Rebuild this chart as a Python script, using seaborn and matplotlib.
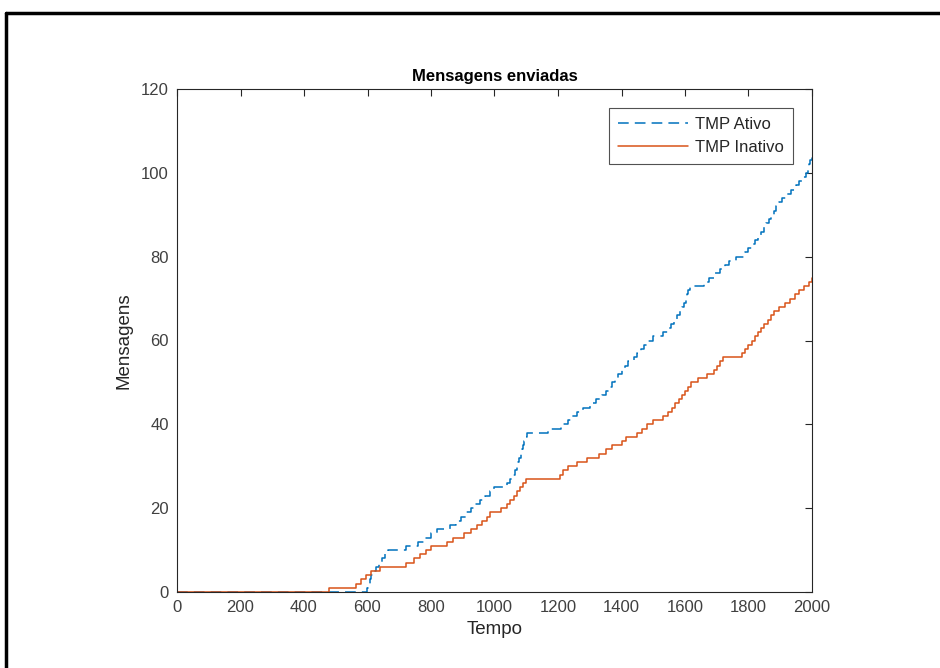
import matplotlib
matplotlib.use("Agg")
import matplotlib.pyplot as plt
import seaborn as sns
import pandas as pd
from matplotlib.lines import Line2D

# --- data (change points of the step curves) ---
ativo_t = [0, 598, 603, 608, 612, 620, 628, 636, 645, 655, 665, 720, 760, 780, 800, 820,
           860, 880, 895, 910, 925, 940, 955, 970, 985, 1000, 1040, 1050, 1058, 1064, 1070,
           1074, 1078, 1082, 1086, 1090, 1094, 1098, 1102, 1170, 1210, 1230, 1245, 1260,
           1280, 1300, 1320, 1340, 1350, 1360, 1370, 1380, 1390, 1400, 1410, 1420, 1440,
           1450, 1460, 1470, 1480, 1500, 1530, 1545, 1555, 1565, 1575, 1585, 1592, 1598,
           1602, 1606, 1610, 1615, 1660, 1675, 1690, 1710, 1725, 1740, 1760, 1790, 1800,
           1810, 1820, 1830, 1840, 1848, 1856, 1864, 1872, 1880, 1888, 1896, 1905, 1920,
           1935, 1950, 1960, 1970, 1980, 1988, 1990, 1995, 2000]
ativo_v = [0, 1, 2, 3, 4, 5, 6, 7, 8, 9, 10, 11, 12, 13, 14, 15,
           16, 17, 18, 19, 20, 21, 22, 23, 24, 25, 26, 27, 28, 29, 30,
           31, 32, 33, 34, 35, 36, 37, 38, 39, 40, 41, 42, 43,
           44, 45, 46, 47, 48, 49, 50, 51, 52, 53, 54, 55, 56,
           57, 58, 59, 60, 61, 62, 63, 64, 65, 66, 67, 68, 69,
           70, 71, 72, 73, 74, 75, 76, 77, 78, 79, 80, 81, 82,
           83, 84, 85, 86, 87, 88, 89, 90, 91, 92, 93, 94, 95,
           96, 97, 98, 99, 100, 101, 102, 103, 104]

inativo_t = [0, 478, 565, 580, 595, 610, 640, 720, 745, 765, 785, 800, 850, 870, 905, 925,
             945, 960, 975, 985, 1020, 1040, 1050, 1060, 1070, 1080, 1090, 1100, 1205, 1215,
             1230, 1260, 1290, 1330, 1350, 1370, 1400, 1415, 1450, 1465, 1480, 1500, 1530,
             1545, 1560, 1570, 1580, 1590, 1600, 1610, 1620, 1640, 1670, 1690, 1700, 1710,
             1720, 1780, 1790, 1800, 1810, 1820, 1830, 1840, 1850, 1860, 1870, 1880, 1895,
             1915, 1930, 1945, 1960, 1975, 1990, 2000]
inativo_v = [0, 1, 2, 3, 4, 5, 6, 7, 8, 9, 10, 11, 12, 13, 14, 15,
             16, 17, 18, 19, 20, 21, 22, 23, 24, 25, 26, 27, 28, 29,
             30, 31, 32, 33, 34, 35, 36, 37, 38, 39, 40, 41, 42,
             43, 44, 45, 46, 47, 48, 49, 50, 51, 52, 53, 54, 55,
             56, 57, 58, 59, 60, 61, 62, 63, 64, 65, 66, 67, 68,
             69, 70, 71, 72, 73, 74, 75]

x_ticks = [0, 200, 400, 600, 800, 1000, 1200, 1400, 1600, 1800, 2000]
y_ticks = [0, 20, 40, 60, 80, 100, 120]

sns.set_theme(style="white")
plt.rcParams['font.family'] = ['Liberation Sans', 'DejaVu Sans']

fig = plt.figure(figsize=(9.4, 6.68), dpi=100)
ax = fig.add_axes([177/940, 1-592/668, (812-177)/940, (592-89)/668])

df_a = pd.DataFrame({"Tempo": ativo_t, "Mensagens": ativo_v})
df_i = pd.DataFrame({"Tempo": inativo_t, "Mensagens": inativo_v})

sns.lineplot(data=df_a, x="Tempo", y="Mensagens", ax=ax, color="#0072BD",
             drawstyle="steps-post", linestyle=(0, (7, 4)), linewidth=1.1, label="TMP Ativo")
sns.lineplot(data=df_i, x="Tempo", y="Mensagens", ax=ax, color="#D95319",
             drawstyle="steps-post", linewidth=1.1, label="TMP Inativo")

ax.set_xlim(0, 2000)
ax.set_ylim(0, 120)
ax.set_xticks(x_ticks)
ax.set_yticks(y_ticks)
ax.tick_params(direction="in", length=5, width=0.8, colors="#262626", labelsize=12,
               top=True, right=True, labeltop=False, labelright=False, pad=6)
ax.tick_params(axis='both', labelcolor="#404040")
for s in ax.spines.values():
    s.set_color("#262626")
    s.set_linewidth(0.8)
ax.set_xlabel("Tempo", fontsize=13.5, color="#262626", labelpad=4)
ax.set_ylabel("Mensagens", fontsize=13.5, color="#262626", labelpad=6)
ax.set_title("Mensagens enviadas", fontsize=12, fontweight="bold", color="black", pad=6)

leg = ax.legend(loc="upper right", bbox_to_anchor=(793/940, 1-108/668),
                bbox_transform=fig.transFigure, frameon=True, fancybox=False,
                edgecolor="#262626", fontsize=12, handlelength=4.2, handletextpad=0.4,
                borderpad=0.55, labelspacing=0.45, borderaxespad=0)
leg.get_frame().set_linewidth(0.8)
for t in leg.get_texts():
    t.set_color("#262626")

# outer black frame
fig.add_artist(Line2D([6/940, 6/940], [0, 1-13/668], color="black", lw=2.5,
                      transform=fig.transFigure))
fig.add_artist(Line2D([6/940, 1], [1-13/668, 1-13/668], color="black", lw=2.5,
                      transform=fig.transFigure))

fig.savefig("out.png", dpi=100)
